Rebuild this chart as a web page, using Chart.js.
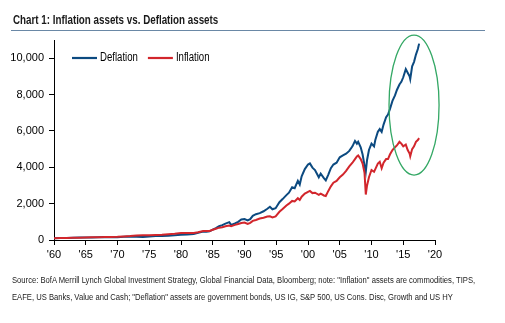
<!DOCTYPE html>
<html>
<head>
<meta charset="utf-8">
<script src="https://cdn.jsdelivr.net/npm/chart.js@4.4.1/dist/chart.umd.min.js"></script>
<style>
  body { margin: 0; background: #fff; }
  #wrap { position: relative; width: 505px; height: 323px; overflow: hidden; }
  #chart { position: absolute; left: 0; top: 0; }
  #title { position: absolute; left: 13px; top: 12px; font: bold 13px 'Liberation Sans', Arial, sans-serif; color: #1a1a1a; white-space: nowrap; transform-origin: 0 0; }
  #rule { position: absolute; left: 11px; top: 30px; width: 474px; border-top: 1px solid #6a88a6; }
  .src { position: absolute; left: 12px; font: 8.5px 'Liberation Sans', Arial, sans-serif; color: #222; white-space: nowrap; transform-origin: 0 0; }
</style>
</head>
<body>
<div id="wrap">
  <canvas id="chart" width="505" height="323"></canvas>
  <div id="title" data-w="205">Chart 1: Inflation assets vs. Deflation assets</div>
  <div id="rule"></div>
  <div class="src" data-w="463" style="top:275px">Source: BofA Merrill Lynch Global Investment Strategy, Global Financial Data, Bloomberg; note: "Inflation" assets are commodities, TIPS,</div>
  <div class="src" data-w="441" style="top:292px">EAFE, US Banks, Value and Cash; "Deflation" assets are government bonds, US IG, S&amp;P 500, US Cons. Disc, Growth and US HY</div>
</div>
<script>
  // values (index level)
  var years = [
    1960, 1961, 1962, 1963, 1964, 1965, 1966, 1967, 1968, 1969,
    1970, 1971, 1972, 1973, 1974, 1975, 1976, 1977, 1978, 1979,
    1980, 1981, 1982, 1982.7, 1983.5, 1984, 1984.5, 1985, 1985.5, 1986,
    1986.5, 1987, 1987.6, 1987.9, 1988.5, 1989, 1989.5, 1990, 1990.5, 1990.9,
    1991.3, 1991.8, 1992.4, 1993, 1993.6, 1994, 1994.4, 1994.9, 1995.5, 1996,
    1996.6, 1997, 1997.5, 1997.9, 1998.4, 1998.7, 1999, 1999.5, 2000, 2000.3,
    2000.7, 2001.1, 2001.7, 2002, 2002.5, 2002.8, 2003.2, 2003.6, 2004, 2004.5,
    2005, 2005.5, 2006, 2006.5, 2007, 2007.4, 2007.7, 2007.9, 2008.3, 2008.6,
    2008.9, 2009.1, 2009.3, 2009.6, 2010, 2010.4, 2010.6, 2011, 2011.3, 2011.6,
    2011.9, 2012.3, 2012.6, 2012.9, 2013.3, 2013.7, 2014, 2014.4, 2014.7, 2015,
    2015.4, 2015.7, 2016, 2016.1, 2016.4, 2016.7, 2017, 2017.3, 2017.5
  ];
  var deflation = [
    100, 115, 110, 125, 135, 140, 135, 150, 160, 150,
    155, 175, 190, 185, 170, 195, 225, 225, 240, 265,
    290, 300, 330, 400, 470, 460, 480, 570, 650, 760,
    820, 900, 980, 830, 910, 1000, 1130, 1150, 1080, 1150,
    1330, 1420, 1480, 1580, 1720, 1830, 1690, 1750, 2080, 2250,
    2470, 2600, 2900, 2850, 3250, 3050, 3500, 3900, 4150, 4210,
    3980, 3850, 3450, 3650, 3400, 3280, 3600, 3950, 4150, 4250,
    4550, 4650, 4750, 4900, 5150, 5450, 5300, 5400, 5100, 4700,
    4100, 3750, 4400, 4950, 5300, 5150, 5500, 5950, 6100, 5950,
    6350, 6750, 6900, 7200, 7650, 7950, 8250, 8550, 8700, 8950,
    9400, 9200, 9000, 8850, 9550, 9800, 10200, 10500, 10800
  ];
  var inflation = [
    100, 110, 115, 120, 130, 140, 145, 155, 165, 170,
    175, 195, 215, 245, 260, 255, 270, 290, 320, 350,
    390, 380, 390, 430, 500, 490, 500, 560, 620, 680,
    700, 760, 800, 760, 830, 880, 930, 960, 880, 940,
    1050, 1100, 1180, 1220, 1290, 1300, 1240, 1300, 1550, 1700,
    1900, 2000, 2150, 2120, 2300, 2200, 2380, 2550, 2650, 2700,
    2580, 2600, 2480, 2550, 2450, 2420, 2700, 2950, 3150, 3250,
    3450, 3600, 3800, 4050, 4250, 4450, 4600, 4650, 4450, 4200,
    3700, 2500, 3000, 3450, 3850, 3750, 3900, 4200, 4300, 3950,
    4250, 4450, 4450, 4700, 4950, 5100, 5200, 5400, 5300, 5150,
    5250, 4950, 4750, 4600, 5000, 5150, 5400, 5500, 5600
  ];
  var seriesNames = ['Deflation', 'Inflation'];
  var seriesColors = ['#0c4a80', '#d2262c'];
  var xTicks = [1960, 1965, 1970, 1975, 1980, 1985, 1990, 1995, 2000, 2005, 2010, 2015, 2020];
  var yTicks = [0, 2000, 4000, 6000, 8000, 10000];
  // circled area: centre and half-widths in data units
  var highlight = { year: 2016.7, value: 7420, halfYears: 3.94, halfValue: 3850 };

  var axisFont = { family: "'Liberation Sans', Arial, sans-serif", size: 11 };

  // squeeze the html text to the narrow width of the original
  document.querySelectorAll('[data-w]').forEach(function (el) {
    var w = el.scrollWidth;
    el.style.transform = 'scaleX(' + (+el.getAttribute('data-w') / w) + ')';
  });

  function toPoints(vals) {
    return years.map(function (y, i) { return { x: y, y: vals[i] }; });
  }

  var extras = {
    id: 'extras',
    afterDatasetsDraw: function (chart) {
      var ctx = chart.ctx, ca = chart.chartArea;
      var xs = chart.scales.x, ys = chart.scales.y;

      // green ellipse
      var cx = xs.getPixelForValue(highlight.year);
      var cy = ys.getPixelForValue(highlight.value);
      var rx = xs.getPixelForValue(highlight.year + highlight.halfYears) - cx;
      var ry = cy - ys.getPixelForValue(highlight.value + highlight.halfValue);
      ctx.save();
      ctx.beginPath();
      ctx.ellipse(cx, cy, rx, ry, 0, 0, Math.PI * 2);
      ctx.strokeStyle = '#34a865';
      ctx.lineWidth = 1.3;
      ctx.stroke();

      // legend (text squeezed like the original)
      ctx.font = '12px ' + axisFont.family;
      ctx.textBaseline = 'middle';
      ctx.fillStyle = '#000';
      var sq = 0.8;
      var x = ca.left + 18, y = ca.top + 18;
      chart.data.datasets.forEach(function (ds) {
        ctx.beginPath();
        ctx.moveTo(x, y);
        ctx.lineTo(x + 25, y);
        ctx.strokeStyle = ds.borderColor;
        ctx.lineWidth = 2.2;
        ctx.stroke();
        ctx.save();
        ctx.translate(x + 28, y);
        ctx.scale(sq, 1);
        ctx.fillText(ds.label, 0, 0);
        ctx.restore();
        x += 28 + ctx.measureText(ds.label).width * sq + 10;
      });
      ctx.restore();
    }
  };

  var ctx = document.getElementById('chart').getContext('2d');
  var chart = new Chart(ctx, {
    type: 'line',
    data: {
      datasets: [{
        label: seriesNames[0],
        data: toPoints(deflation),
        borderColor: seriesColors[0],
        backgroundColor: seriesColors[0],
        borderWidth: 2,
        pointRadius: 0,
        order: 1
      }, {
        label: seriesNames[1],
        data: toPoints(inflation),
        borderColor: seriesColors[1],
        backgroundColor: seriesColors[1],
        borderWidth: 2,
        pointRadius: 0,
        order: 0
      }]
    },
    options: {
      responsive: false,
      animation: false,
      layout: { padding: { left: 0, top: 40, right: 70, bottom: 0 } },
      plugins: { legend: { display: false }, tooltip: { enabled: false } },
      scales: {
        x: {
          type: 'linear',
          min: 1960,
          max: 2020,
          afterBuildTicks: function (s) { s.ticks = xTicks.map(function (v) { return { value: v }; }); },
          afterFit: function (s) { s.height = 83; },
          ticks: {
            autoSkip: false, maxRotation: 0, padding: 3, color: '#000', font: axisFont,
            callback: function (v) { return "'" + String(v).slice(2); }
          },
          grid: { drawOnChartArea: false, tickLength: 5, color: '#000' },
          border: { color: '#000', width: 1 }
        },
        y: {
          min: 0,
          max: 11000,
          afterBuildTicks: function (s) { s.ticks = yTicks.map(function (v) { return { value: v }; }); },
          afterFit: function (s) { s.width = 54; },
          ticks: {
            padding: 5, color: '#000', font: axisFont,
            callback: function (v) { return v.toLocaleString('en-US'); }
          },
          grid: { drawOnChartArea: false, tickLength: 5, color: '#000' },
          border: { color: '#000', width: 1 }
        }
      }
    },
    plugins: [extras]
  });
</script>
</body>
</html>
